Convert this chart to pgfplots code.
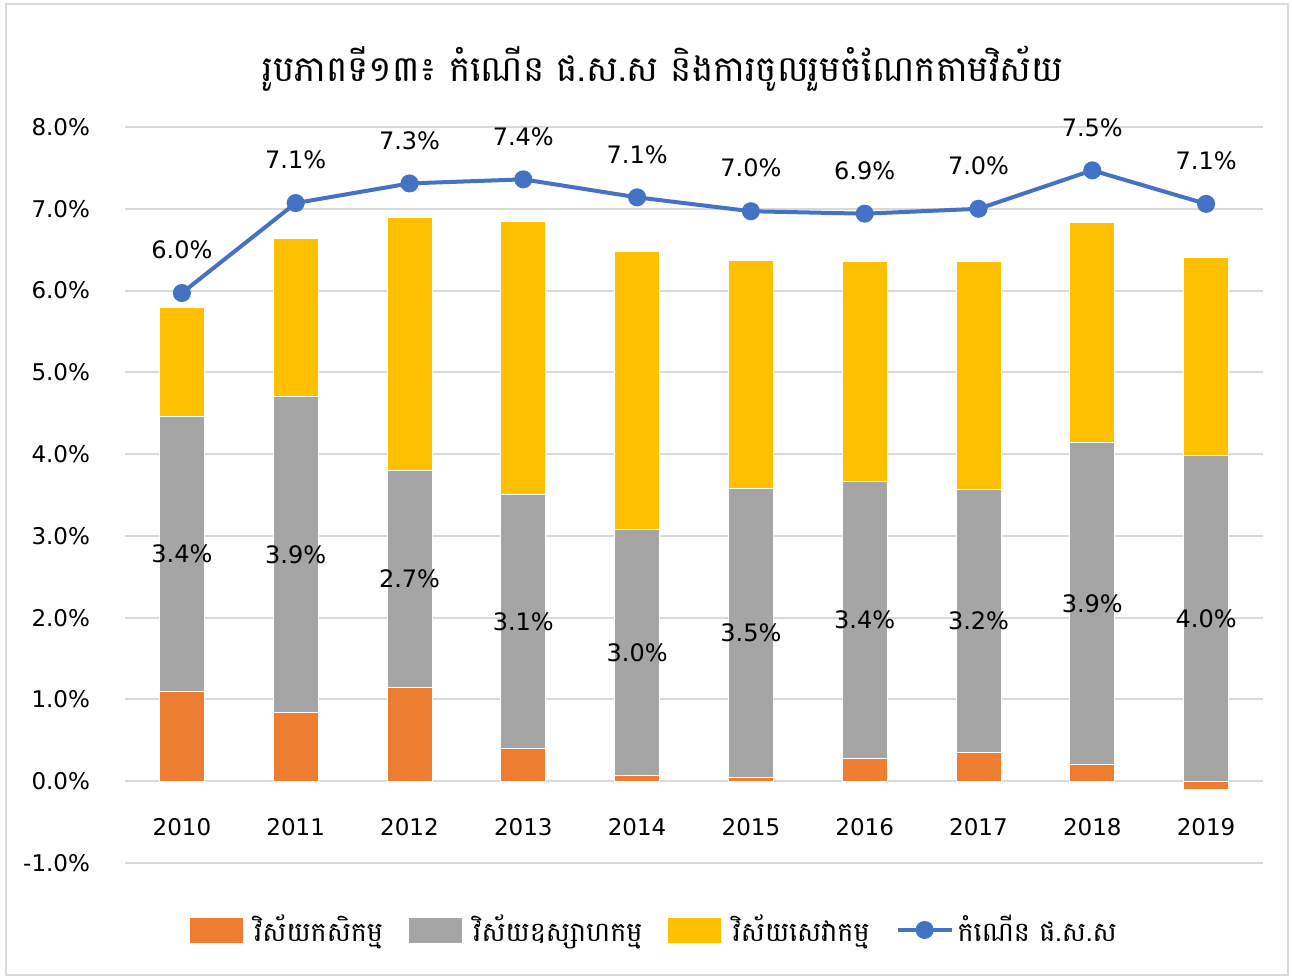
\documentclass[border=0pt]{standalone}
\usepackage{fontspec}
\setmainfont{DejaVu Sans}
\newfontfamily\khmer[Script=Khmer]{Battambang}
\usepackage{pgfplots}
\usepackage{pgfplotstable}
\pgfplotsset{compat=1.18}
\definecolor{cagr}{HTML}{ED7D31}
\definecolor{cind}{HTML}{A5A5A5}
\definecolor{cser}{HTML}{FFC000}
\definecolor{cgdp}{HTML}{4472C4}
\definecolor{cgrid}{HTML}{D9D9D9}
\pgfplotstableread{
x agr ind ser gdp
0 1.10 3.36 1.33 5.97
1 0.84 3.86 1.94 7.07
2 1.14 2.66 3.09 7.31
3 0.40 3.11 3.34 7.36
4 0.07 3.01 3.40 7.14
5 0.05 3.53 2.79 6.97
6 0.28 3.39 2.68 6.94
7 0.35 3.22 2.78 7.00
8 0.21 3.93 2.69 7.47
9 0.00 3.98 2.43 7.06
}\data
\begin{document}
\begin{tikzpicture}
\useasboundingbox (0,0) rectangle (646pt,489.5pt);
\draw[color=cgrid, line width=0.75pt] (3pt,2pt) rectangle (644pt,487.5pt);
\pgfplotsset{base/.style={scale only axis, width=569pt, height=368pt,
  at={(62.5pt,58pt)}, anchor=south west,
  xmin=-0.5, xmax=9.5, ymin=-1, ymax=8,
  /pgf/number format/assume math mode=true}}
\begin{axis}[base, ybar stacked, bar width=22.5pt,
  axis line style={draw=none}, major tick length=0pt,
  ytick={-1,0,...,8}, ymajorgrids, grid style={color=cgrid, line width=1pt},
  yticklabel={\pgfmathprintnumber[fixed,fixed zerofill,precision=1]{\tick}\%},
  yticklabel style={anchor=east, xshift=-14pt, font=\fontsize{11.5}{13}\selectfont},
  xtick={0,...,9}, xticklabels={2010,2011,2012,2013,2014,2015,2016,2017,2018,2019},
  xticklabel style={anchor=center, yshift=18pt, font=\fontsize{11.5}{13}\selectfont}]
\addplot[fill=cagr, draw=white, line width=0.5pt] table[x=x,y=agr]{\data};
\addplot[fill=cind, draw=white, line width=0.5pt] table[x=x,y=ind]{\data};
\addplot[fill=cser, draw=white, line width=0.5pt] table[x=x,y=ser]{\data};
\end{axis}
\begin{axis}[base, hide axis,
  legend style={draw=none, at={(0.466,-0.091)}, anchor=center,
    legend columns=4, font=\khmer\fontsize{13.5}{16}\selectfont,
    /tikz/every even column/.append style={column sep=11pt}},
  legend cell align=left]
\addlegendimage{legend image code/.code={\fill[cagr] (0pt,-6pt) rectangle (26pt,6pt); \path[draw=none] (0pt,0pt) -- (30pt,0pt);}}
\addlegendentry{វិស័យកសិកម្ម}
\addlegendimage{legend image code/.code={\fill[cind] (0pt,-6pt) rectangle (26pt,6pt); \path[draw=none] (0pt,0pt) -- (30pt,0pt);}}
\addlegendentry{វិស័យឧស្សាហកម្ម}
\addlegendimage{legend image code/.code={\fill[cser] (0pt,-6pt) rectangle (26pt,6pt); \path[draw=none] (0pt,0pt) -- (30pt,0pt);}}
\addlegendentry{វិស័យសេវាកម្ម}
\addplot[ybar, bar width=22.5pt, bar shift=0pt, fill=cagr, draw=white, line width=0.5pt, forget plot] coordinates {(9,-0.10)};
\addplot[draw=none, mark=none, forget plot, point meta=explicit,
  nodes near coords={\pgfmathprintnumber[fixed,fixed zerofill,precision=1]{\pgfplotspointmeta}\%},
  nodes near coords style={anchor=center, text=black, font=\fontsize{12}{14}\selectfont}]
  table[x=x, y expr=\thisrow{agr}+0.5*\thisrow{ind}, meta=ind]{\data};
\addplot[color=cgdp, line width=2pt, mark=*, mark size=3.5pt, point meta=y,
  legend image code/.code={\draw[cgdp, line width=2pt] (0pt,0pt) -- (27pt,0pt); \fill[cgdp] (13.5pt,0pt) circle (3.5pt); \path[draw=none] (0pt,0pt) -- (28pt,0pt);},
  nodes near coords={\pgfmathprintnumber[fixed,fixed zerofill,precision=1]{\pgfplotspointmeta}\%},
  nodes near coords style={anchor=south, yshift=16pt, inner sep=0pt, text=black, font=\fontsize{12}{14}\selectfont}]
  table[x=x,y=gdp]{\data};
\addlegendentry{កំណើន ផ.ស.ស}
\end{axis}
\node[font=\khmer\fontsize{17.8}{22}\selectfont] at (331.5pt,455pt) {រូបភាពទី១៣៖ កំណើន ផ.ស.ស និងការចូលរួមចំណែកតាមវិស័យ};
\end{tikzpicture}
\end{document}
